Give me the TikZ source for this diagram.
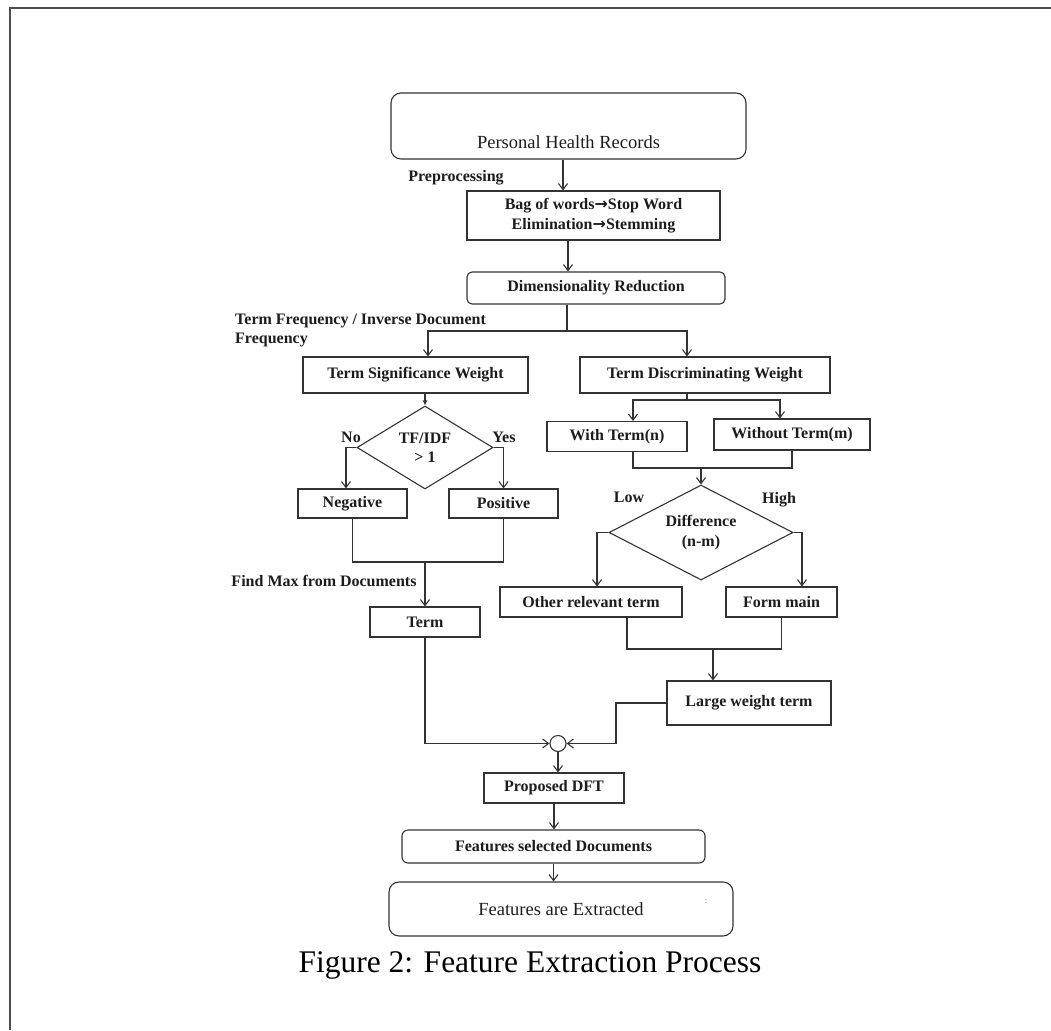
\documentclass[tikz,border=0pt]{standalone}
\usepackage{fontspec}
\setmainfont{Liberation Serif}
\newfontfamily\fcarrowfont{DejaVu Sans}
\usetikzlibrary{arrows.meta}
\usetikzlibrary{calc}
\usetikzlibrary{shapes.geometric}
\definecolor{fcline}{HTML}{333333}
\definecolor{fctext}{HTML}{1C1C1C}
\tikzset{
    fcnode/.style = {align=center, inner sep=0pt, text centered, text=fctext,
        font=\bfseries\fontsize{16}{19.5}\selectfont},
    fc_box/.style = {fcnode, rectangle, draw=fcline, line width=1.1pt},% plain step
    fc_rnd/.style = {fc_box, rounded corners=5pt},% rounded step
    fc_dec/.style = {fcnode, diamond, draw=fcline, line width=1.1pt},% decision
    fc_lbl/.style = {fcnode},% free label next to a branch
    fc_wire/.style = {draw=fcline, line width=1.1pt},% connector
}

\begin{document}
\begin{tikzpicture}[x=1pt,y=-1pt,>={Straight Barb[length=6pt,width=9pt]}]
\useasboundingbox (0,0) rectangle (1051,1030);
\draw[draw=black!70, line width=2pt] (10,1030) -- (10,8) -- (1051,8);

% top of the flow
\node [fc_rnd, rounded corners=10pt, minimum width=355pt, minimum height=66pt,
    font=\fontsize{18.5}{22}\selectfont] (phr) at (568.5,126)
    {\raisebox{-22pt}[0pt][0pt]{Personal Health Records}};
\node [fc_box, minimum width=253pt, minimum height=49pt] (bow) at (593.5,215.5)
    {Bag of words{\fcarrowfont\bfseries →}Stop Word\\Elimination{\fcarrowfont\bfseries →}Stemming};
\node [fc_rnd, minimum width=258pt, minimum height=32pt] (dim) at (596,288) {Dimensionality Reduction};

% left branch
\node [fc_box, minimum width=225pt, minimum height=36pt] (tsw) at (415.5,375) {Term Significance Weight};
\node [fc_dec, minimum width=136pt, minimum height=83pt, aspect=1.64] (tfd) at (425,447.5) {TF/IDF\\> 1};
\node [fc_box, minimum width=109pt, minimum height=29pt] (neg) at (352.5,503.5) {Negative};
\node [fc_box, minimum width=109pt, minimum height=29pt] (pos) at (503.5,503.5) {Positive};
\node [fc_box, minimum width=110pt, minimum height=30pt] (term) at (425,622) {Term};

% right branch
\node [fc_box, minimum width=250pt, minimum height=36pt] (tdw) at (705,375) {Term Discriminating Weight};
\node [fc_box, minimum width=140pt, minimum height=30pt] (wt) at (617,436.5) {With Term(n)};
\node [fc_box, minimum width=156pt, minimum height=31pt] (wot) at (792,434.5) {Without Term(m)};
\node [fc_dec, minimum width=184pt, minimum height=95pt, aspect=1.94] (dif) at (701,532.5) {Difference\\(n-m)};
\node [fc_box, minimum width=182pt, minimum height=30pt] (other) at (591,602) {Other relevant term};
\node [fc_box, minimum width=111pt, minimum height=30pt] (form) at (781.5,602) {Form main};
\node [fc_box, minimum width=164pt, minimum height=44pt] (lwt) at (749,703) {Large weight term};

% bottom of the flow
\node [circle, draw=fcline, line width=1.1pt, minimum size=16pt, inner sep=0pt] (join) at (558,743.5) {};
\node [fc_box, minimum width=140pt, minimum height=30pt] (pdft) at (554,788) {Proposed DFT};
\node [fc_rnd, rounded corners=6pt, minimum width=303pt, minimum height=33pt] (fsd) at (553.5,846.5) {Features selected Documents};
\node [fc_rnd, rounded corners=10pt, minimum width=344pt, minimum height=54pt,
    font=\fontsize{18.5}{22}\selectfont] (fae) at (561,909) {Features are Extracted};
\node [fcnode, font=\fontsize{8}{8}\selectfont, text=black!60] (dots) at (706,902) {:};

% labels
\node [fc_lbl] (lpre) at (456,178) {Preprocessing};
\node [fc_lbl, anchor=west, align=left] (ltf) at (235,330.5) {Term Frequency / Inverse Document\\Frequency};
\node [fc_lbl] (lmax) at (324,581) {Find Max from Documents};
\node [fc_lbl] (lno) at (351,437) {No};
\node [fc_lbl] (lyes) at (504,437) {Yes};
\node [fc_lbl] (llow) at (629,497) {Low};
\node [fc_lbl] (lhigh) at (779,500) {High};
\node [font=\fontsize{31.5}{36}\selectfont] (cap) at (530,965) {Figure 2: Feature Extraction Process};

% connectors
\coordinate (dsplit) at (567,331);
\coordinate (lmerge) at (425,562);
\coordinate (rsplit) at (687,400);
\coordinate (rmerge) at (701,468);
\coordinate (bmerge) at (713,649);
\coordinate (lbend) at (616,703);

\draw[fc_wire,->] ([xshift=-5.5pt]phr.south) -- ([xshift=-5.5pt]phr.south |- bow.north);
\draw[fc_wire,->] ([xshift=-25.5pt]bow.south) -- ([xshift=-25.5pt]bow.south |- dim.north);
\draw[fc_wire] (dim.south -| dsplit) -- (dsplit);
\draw[fc_wire,->] (dsplit) -| ([xshift=12.5pt]tsw.north);
\draw[fc_wire,->] (dsplit) -| ([xshift=-18pt]tdw.north);
\draw[fc_wire,-{Latex[length=5pt,width=5pt]}] (tsw.south -| tfd.north) -- (tfd.north);
\draw[fc_wire,->] (tfd.west) -| ([xshift=-6.5pt]neg.north);
\draw[fc_wire,->] (tfd.east) -| (pos.north);
\draw[fc_wire] (neg.south) |- (lmerge) -| (pos.south);
\draw[fc_wire,->] (lmerge) -- (term.north);
\draw[fc_wire,->] (term.south) |- (join.west);
\draw[fc_wire] (tdw.south -| rsplit) -- (rsplit);
\draw[fc_wire,->] (rsplit) -| ([xshift=16pt]wt.north);
\draw[fc_wire,->] (rsplit) -| ([xshift=-12pt]wot.north);
\draw[fc_wire] ([xshift=16pt]wt.south) |- (rmerge) -| (wot.south);
\draw[fc_wire,->] (rmerge) -- (dif.north);
\draw[fc_wire,->] (dif.west) -| ([xshift=6pt]other.north);
\draw[fc_wire,->] (dif.east) -| ([xshift=20.5pt]form.north);
\draw[fc_wire] ([xshift=36pt]other.south) |- (bmerge) -| (form.south);
\draw[fc_wire,->] (bmerge) -- (bmerge |- lwt.north);
\draw[fc_wire,->] (lwt.west) -- (lbend) |- (join.east);
\draw[fc_wire,->] (join.south) -- (join.south |- pdft.north);
\draw[fc_wire,->] (pdft.south) -- (pdft.south |- fsd.north);
\draw[fc_wire,->] (fsd.south) -- (fsd.south |- fae.north);
\end{tikzpicture}
\end{document}
